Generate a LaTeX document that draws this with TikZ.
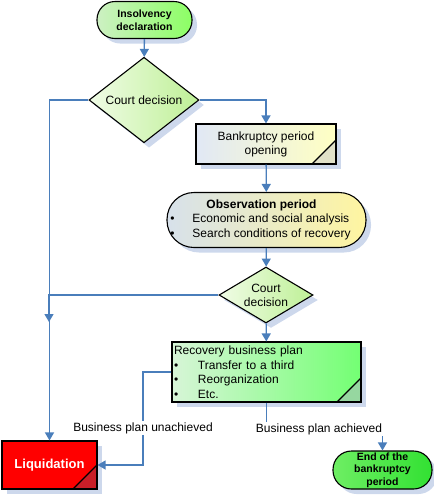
\documentclass[tikz,border=0pt]{standalone}
\usepackage{fontspec}
\setmainfont{Liberation Sans}
\usetikzlibrary{shapes.geometric,shadows,arrows.meta}
\definecolor{linkblue}{RGB}{74,126,187}
\definecolor{shadowblue}{RGB}{205,216,236}
\definecolor{startpale}{RGB}{205,240,195}
\definecolor{startgreen}{RGB}{140,255,100}
\definecolor{decpale}{RGB}{240,252,230}
\definecolor{decgreen}{RGB}{190,240,150}
\definecolor{bankpale}{RGB}{225,232,245}
\definecolor{bankyellow}{RGB}{255,255,195}
\definecolor{obspale}{RGB}{215,225,235}
\definecolor{obsyellow}{RGB}{255,245,160}
\definecolor{recpale}{RGB}{215,245,215}
\definecolor{recgreen}{RGB}{115,255,115}
\definecolor{endpale}{RGB}{110,238,100}
\definecolor{endgreen}{RGB}{50,225,50}
\definecolor{liqred}{RGB}{255,0,0}
\definecolor{bankfold}{RGB}{225,225,200}
\definecolor{recfold}{RGB}{150,215,160}
\definecolor{liqfold}{RGB}{200,30,40}

\begin{document}
\begin{tikzpicture}[x=1pt,y=-1pt,
        every node/.style={font=\fontsize{12}{14}\selectfont},
        box/.style={draw,line width=1.1pt,drop shadow={fill=shadowblue,shadow xshift=5pt,shadow yshift=-5pt,opacity=1}},
        terminal/.style={box,rectangle,align=center,inner sep=0pt,font=\bfseries\fontsize{10.5}{13}\selectfont},
        decision/.style={box,diamond,inner sep=0pt,align=center,left color=decpale,right color=decgreen},
        process/.style={box,rectangle,align=center,inner sep=2pt},
        dogear/.style={path picture={
            \fill[#1] ([xshift=-24pt]path picture bounding box.south east) -- (path picture bounding box.south east)
                -- ([yshift=24pt]path picture bounding box.south east) -- cycle;
            \draw[line width=1.1pt] ([xshift=-24pt]path picture bounding box.south east) -- ([yshift=24pt]path picture bounding box.south east);}},
        link/.style={linkblue,line width=1.3pt},
        conn/.style={link,-{Triangle[width=9pt,length=8pt]}},
        lbl/.style={inner sep=1pt}]
        \useasboundingbox (0,0) rectangle (434,496);

        \node[terminal,minimum width=95pt,minimum height=37pt,rounded corners=18pt,left color=startpale,right color=startgreen] (start) at (144.5,20) {Insolvency\\declaration};
        \node[decision,minimum width=110pt,minimum height=66pt] (dec1) at (144,100) {Court decision};
        \node[process,dogear=bankfold,minimum width=140pt,minimum height=40pt,left color=bankpale,right color=bankyellow] (bank) at (266,144) {Bankruptcy period\\opening};
        \node[terminal,font=\fontsize{12}{14.5}\selectfont,minimum width=199pt,minimum height=55pt,rounded corners=27pt,left color=obspale,right color=obsyellow] (obs) at (266.5,220)
            {\begin{tabular}{@{\hspace{10pt}}l@{}}\multicolumn{1}{@{}c@{\hspace{10pt}}}{\bfseries Observation period}\\
             \llap{\textbullet\hspace{18pt}}Economic and social analysis\\
             \llap{\textbullet\hspace{18pt}}Search conditions of recovery\end{tabular}};
        \node[decision,minimum width=94pt,minimum height=56pt,aspect=1.68] (dec2) at (266,295) {Court\\decision};
        \node[process,dogear=recfold,align=left,text width=185pt,minimum height=60pt,font=\fontsize{12}{14.5}\selectfont,left color=recpale,right color=recgreen] (rec) at (266.5,372)
            {Recovery business plan\\
             \makebox[24pt][l]{\textbullet}Transfer to a third\\
             \makebox[24pt][l]{\textbullet}Reorganization\\
             \makebox[24pt][l]{\textbullet}Etc.};
        \node[process,dogear=liqfold,minimum width=95pt,minimum height=48pt,fill=liqred,text=white,font=\bfseries\fontsize{13}{15}\selectfont] (liq) at (49.5,465) {Liquidation};
        \node[terminal,minimum width=99pt,minimum height=38pt,rounded corners=18.5pt,font=\bfseries\fontsize{10.5}{12.7}\selectfont,left color=endpale,right color=endgreen] (endp) at (382.5,470) {End of the\\bankruptcy\\period};

        \node[lbl] (unach) at (143,428) {Business plan unachieved};
        \node[lbl] (ach) at (319,429) {Business plan achieved};
        \coordinate (join) at (49,322);

        \draw[conn] (start) -- (dec1);
        \draw[conn] (dec1.west) -| (liq.north);
        \draw[conn] (dec1.east) -| (bank.north);
        \draw[conn] (bank) -- (obs);
        \draw[conn] (obs) -- (dec2);
        \draw[conn] (dec2.west) -| (join);
        \draw[conn] (dec2) -- (rec);
        \draw[link] (rec.west) -| (unach.north);
        \draw[conn] (unach.south) |- (liq.east);
        \draw[link] (rec.south) -- (rec.south |- ach.north);
        \draw[conn] (ach.south -| endp.north) -- (endp.north);
\end{tikzpicture}
\end{document}
